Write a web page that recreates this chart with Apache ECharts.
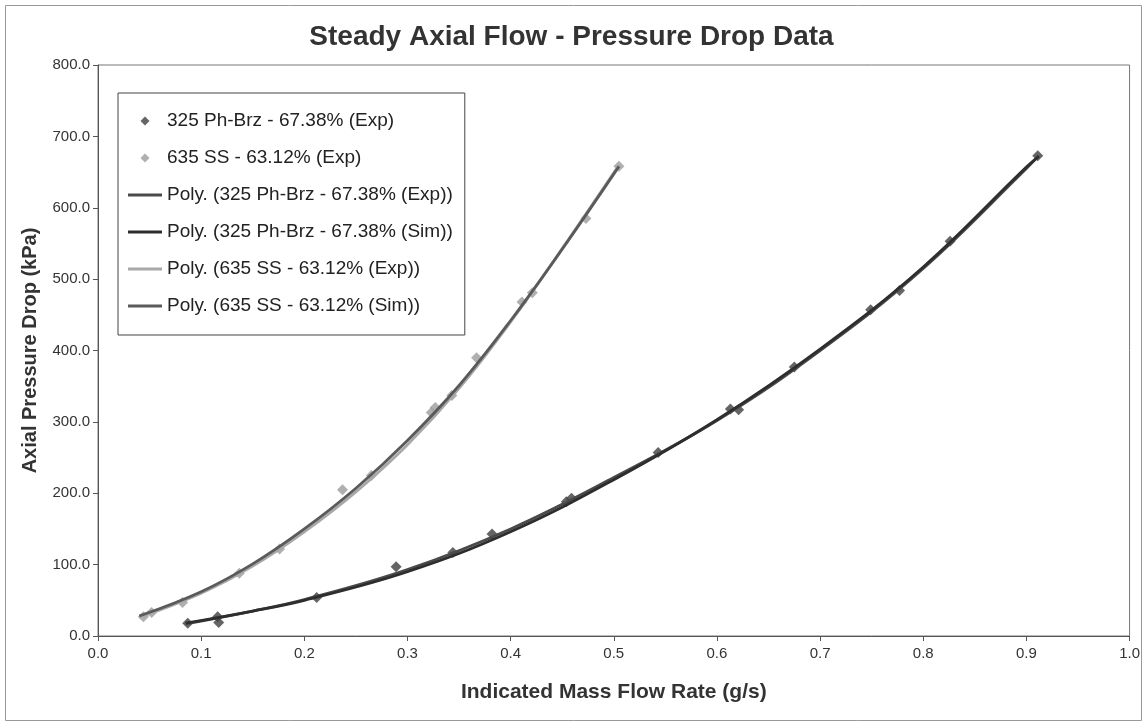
<!DOCTYPE html>
<html>
<head>
<meta charset="utf-8">
<script src="https://cdn.jsdelivr.net/npm/echarts@6/dist/echarts.min.js"></script>
<style>
html,body{margin:0;padding:0;background:#fff;}
#c{width:1143px;height:722px;}
</style>
</head>
<body>
<div id="c"></div>
<script>
// ---- data ----
const xTicks = [0.0,0.1,0.2,0.3,0.4,0.5,0.6,0.7,0.8,0.9,1.0];
const yTicks = [0,100,200,300,400,500,600,700,800];

const seriesNames = [
  '325 Ph-Brz - 67.38% (Exp)',
  '635 SS - 63.12% (Exp)',
  'Poly. (325 Ph-Brz - 67.38% (Exp))',
  'Poly. (325 Ph-Brz - 67.38% (Sim))',
  'Poly. (635 SS - 63.12% (Exp))',
  'Poly. (635 SS - 63.12% (Sim))'
];

// experimental points [mass flow g/s, pressure drop kPa]
const brzExp = [
  [0.087,18],[0.116,27],[0.117,19],[0.212,54],[0.289,97],[0.344,117],
  [0.382,143],[0.454,188],[0.459,193],[0.543,257],[0.613,318],[0.621,317],
  [0.675,377],[0.749,457],[0.777,484],[0.826,553],[0.911,673]
];
const ssExp = [
  [0.044,27],[0.052,33],[0.082,47],[0.137,88],[0.176,122],[0.237,205],
  [0.265,225],[0.323,313],[0.327,320],[0.343,337],[0.367,390],[0.411,468],
  [0.421,481],[0.473,585],[0.505,658]
];

// trend curves
const brzExpFit = [
  [0.085,17],[0.15,35],[0.2,51],[0.3,93],[0.4,150],[0.5,222],
  [0.6,302],[0.7,400],[0.8,515],[0.9,655],[0.912,673]
];
const brzSimFit = [
  [0.085,18],[0.15,35],[0.2,50],[0.3,90],[0.4,146],[0.5,219],
  [0.6,303],[0.7,402],[0.8,517],[0.9,657],[0.912,672]
];
const ssExpFit = [
  [0.04,26],[0.1,60],[0.15,98],[0.2,146],[0.25,202],[0.3,268],
  [0.35,347],[0.4,440],[0.45,543],[0.505,660]
];
const ssSimFit = [
  [0.04,28],[0.1,62],[0.15,101],[0.2,150],[0.25,207],[0.3,274],
  [0.35,351],[0.4,442],[0.45,542],[0.505,658]
];

const FONT = '"Liberation Sans", Arial, sans-serif';
const diamondIcon = 'path://M0,0 M34,14 M17,2.5 L21.5,7 L17,11.5 L12.5,7 Z';
const lineIcon = 'path://M0,0 M34,14 M0,5.6 L34,5.6 L34,8.4 L0,8.4 Z';

const chart = echarts.init(document.getElementById('c'), null, {renderer:'canvas'});
chart.setOption({
  animation: false,
  backgroundColor: '#ffffff',
  textStyle: {fontFamily: FONT},
  title: {
    text: 'Steady Axial Flow - Pressure Drop Data',
    left: 'center', top: 18,
    textStyle: {fontFamily: FONT, fontSize: 28, fontWeight: 'bold', color: '#333'}
  },
  graphic: [{
    type: 'rect', left: 3, top: 3, z: -1,
    shape: {width: 1136, height: 715},
    style: {fill: 'none', stroke: '#999', lineWidth: 1}
  }],
  legend: {
    orient: 'vertical',
    left: 118, top: 93,
    padding: [18, 12, 19, 10],
    itemWidth: 34, itemHeight: 14,
    itemGap: 17,
    borderColor: '#444', borderWidth: 1,
    backgroundColor: '#fff',
    textStyle: {fontFamily: FONT, fontSize: 19, color: '#222', lineHeight: 20},
    data: [
      {name: seriesNames[0], icon: diamondIcon},
      {name: seriesNames[1], icon: diamondIcon},
      {name: seriesNames[2], icon: lineIcon},
      {name: seriesNames[3], icon: lineIcon},
      {name: seriesNames[4], icon: lineIcon},
      {name: seriesNames[5], icon: lineIcon}
    ]
  },
  grid: {left: 98, right: 12, top: 65, bottom: 86, show: true, borderColor: '#777', borderWidth: 1},
  xAxis: {
    type: 'value', min: xTicks[0], max: xTicks[xTicks.length-1], interval: 0.1,
    name: 'Indicated Mass Flow Rate (g/s)', nameLocation: 'middle', nameGap: 46,
    nameTextStyle: {fontFamily: FONT, fontSize: 21, fontWeight: 'bold', color: '#333'},
    axisLine: {lineStyle: {color: '#555', width: 1}},
    axisTick: {show: true, inside: false, length: 5, lineStyle: {color: '#555'}},
    axisLabel: {fontFamily: FONT, fontSize: 15, color: '#333', margin: 10,
      formatter: v => v.toFixed(1)},
    splitLine: {show: false}
  },
  yAxis: {
    type: 'value', min: yTicks[0], max: yTicks[yTicks.length-1], interval: 100,
    name: 'Axial Pressure Drop (kPa)', nameLocation: 'middle', nameGap: 58,
    nameTextStyle: {fontFamily: FONT, fontSize: 20, fontWeight: 'bold', color: '#333'},
    axisLine: {show: true, lineStyle: {color: '#555', width: 1}},
    axisTick: {show: true, inside: false, length: 5, lineStyle: {color: '#555'}},
    axisLabel: {fontFamily: FONT, fontSize: 15, color: '#333', margin: 8,
      formatter: v => v.toFixed(1)},
    splitLine: {show: false}
  },
  series: [
    {name: seriesNames[0], type: 'scatter', data: brzExp, symbol: 'diamond', symbolSize: 11,
      itemStyle: {color: '#3e3e3e'}, z: 2},
    {name: seriesNames[1], type: 'scatter', data: ssExp, symbol: 'diamond', symbolSize: 11,
      itemStyle: {color: '#9c9c9c'}, z: 2},
    {name: seriesNames[2], type: 'line', data: brzExpFit, smooth: 0.4, symbol: 'none',
      lineStyle: {color: '#4a4a4a', width: 2.8}, itemStyle: {color: '#4a4a4a'}, z: 3},
    {name: seriesNames[3], type: 'line', data: brzSimFit, smooth: 0.4, symbol: 'none',
      lineStyle: {color: '#2e2e2e', width: 2.8}, itemStyle: {color: '#2e2e2e'}, z: 3},
    {name: seriesNames[4], type: 'line', data: ssExpFit, smooth: 0.4, symbol: 'none',
      lineStyle: {color: '#a8a8a8', width: 2.8}, itemStyle: {color: '#a8a8a8'}, z: 3},
    {name: seriesNames[5], type: 'line', data: ssSimFit, smooth: 0.4, symbol: 'none',
      lineStyle: {color: '#5a5a5a', width: 2.8}, itemStyle: {color: '#5a5a5a'}, z: 3}
  ]
});
</script>
</body>
</html>
